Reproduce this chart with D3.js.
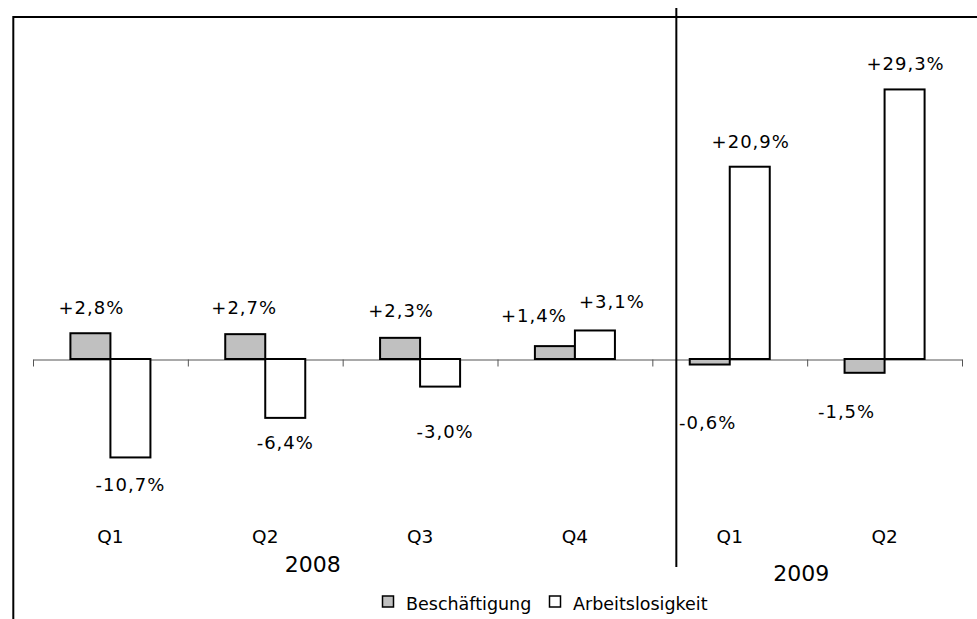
<!DOCTYPE html>
<html>
<head>
<meta charset="utf-8">
<script src="https://cdn.jsdelivr.net/npm/d3@7"></script>
<style>
  html, body { margin: 0; padding: 0; background: #fff; }
  svg { display: block; }
  text { font-family: "DejaVu Sans", sans-serif; fill: #000; font-weight: 400; }
</style>
</head>
<body>
<svg id="chart" width="977" height="619"></svg>
<script>
// ---- data ----
const categories = ["Q1", "Q2", "Q3", "Q4", "Q1", "Q2"];
const years = ["2008", "2009"];
const seriesNames = ["Beschäftigung", "Arbeitslosigkeit"];
const beschaeftigung = [2.8, 2.7, 2.3, 1.4, -0.6, -1.5];
const arbeitslosigkeit = [-10.7, -6.4, -3.0, 3.1, 20.9, 29.3];
const yDomain = [-15, 35];

// ---- layout (label nudges in px, separate from data) ----
const nudgeB = [[1, 0], [-1, -1], [1, -2], [-21, -5], [-2, 33], [-18, 14]];
const nudgeA = [[0, 3], [0, 0], [5, 20], [17, -3], [1, 0], [1, 0]];

(function () {
const svg = d3.select("#chart");
const W = 977, H = 619;
const pLeft = 33, pRight = 962, pTop = 37, pBottom = 497;

const idx = d3.range(categories.length);
const x0 = d3.scaleBand().domain(idx).range([pLeft, pRight]).padding(0);
const x1 = d3.scaleBand().domain(seriesNames).range([0, x0.bandwidth()]).paddingInner(0).paddingOuter(0.935);
const xb = d3.scaleLinear().domain([0, categories.length]).range([pLeft, pRight]);
const y = d3.scaleLinear().domain(yDomain).range([pBottom, pTop]);

const fills = { "Beschäftigung": "#c0c0c0", "Arbeitslosigkeit": "#ffffff" };

// frame (left and top lines)
svg.append("line").attr("x1", 13).attr("y1", 17).attr("x2", W).attr("y2", 17)
  .attr("stroke", "#000").attr("stroke-width", 2);
svg.append("line").attr("x1", 13.3).attr("y1", 16).attr("x2", 13.3).attr("y2", H)
  .attr("stroke", "#000").attr("stroke-width", 2);

// axis with boundary ticks
const axis = d3.axisBottom(xb).tickValues(d3.range(categories.length + 1))
  .tickSize(7).tickSizeOuter(0).tickFormat("");
const gAxis = svg.append("g").attr("transform", `translate(0,${Math.round(y(0)) + 0.5})`).call(axis);
gAxis.select(".domain").attr("stroke", "#555").attr("stroke-width", 1);
gAxis.selectAll(".tick line").attr("stroke", "#555").attr("stroke-width", 1);

// data rows
const rows = idx.map(i => ({
  i,
  values: [
    { name: seriesNames[0], v: beschaeftigung[i], nudge: nudgeB[i] },
    { name: seriesNames[1], v: arbeitslosigkeit[i], nudge: nudgeA[i] }
  ]
}));

const groups = svg.append("g").selectAll("g").data(rows).join("g")
  .attr("transform", d => `translate(${x0(d.i)},0)`);

groups.selectAll("rect").data(d => d.values).join("rect")
  .attr("x", d => x1(d.name))
  .attr("y", d => y(Math.max(0, d.v)))
  .attr("width", x1.bandwidth())
  .attr("height", d => Math.abs(y(d.v) - y(0)))
  .attr("fill", d => fills[d.name])
  .attr("stroke", "#000").attr("stroke-width", 2);

const fmt = v => (v > 0 ? "+" : "") + v.toFixed(1).replace(".", ",") + "%";

groups.selectAll("text.val").data(d => d.values).join("text")
  .attr("class", "val")
  .attr("x", d => x1(d.name) + x1.bandwidth() / 2 + d.nudge[0])
  .attr("y", d => (d.v >= 0 ? y(d.v) - 19 : y(d.v) + 31) + d.nudge[1])
  .attr("text-anchor", "middle")
  .style("font-size", "18px")
  .style("letter-spacing", "1px")
  .text(d => fmt(d.v));

// category labels
svg.append("g").selectAll("text").data(idx).join("text")
  .attr("x", i => x0(i) + x0.bandwidth() / 2)
  .attr("y", 543)
  .attr("text-anchor", "middle")
  .style("font-size", "18.5px")
  .text(i => categories[i]);

// separator between years
svg.append("line").attr("x1", xb(4) + 24).attr("x2", xb(4) + 24)
  .attr("y1", 8).attr("y2", 567).attr("stroke", "#000").attr("stroke-width", 2);

// year labels
const yearPos = [[xb(2) - 30, 572], [xb(5) - 6, 581]];
svg.append("g").selectAll("text").data(years).join("text")
  .attr("x", (d, i) => yearPos[i][0])
  .attr("y", (d, i) => yearPos[i][1])
  .attr("text-anchor", "middle")
  .style("font-size", "22px")
  .text(d => d);

// legend
const legendX = [382, 549];
const lg = svg.append("g").selectAll("g").data(seriesNames).join("g")
  .attr("transform", (d, i) => `translate(${legendX[i]},596)`);
lg.append("rect").attr("x", 0.5).attr("y", 0).attr("width", 11).attr("height", 11)
  .attr("fill", d => fills[d]).attr("stroke", "#000").attr("stroke-width", 1.5);
lg.append("text").attr("x", 24).attr("y", 14)
  .style("font-size", "17.5px")
  .text(d => d);
})();
</script>
</body>
</html>
